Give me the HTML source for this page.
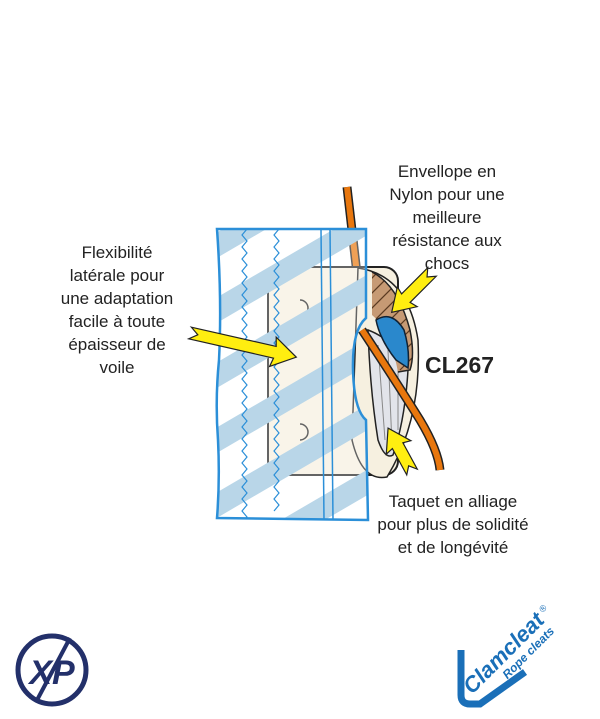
<!DOCTYPE html>
<html><head><meta charset="utf-8"><style>
html,body{margin:0;padding:0;background:#fff;}
svg{display:block;}
text{font-family:"Liberation Sans",sans-serif;fill:#222;}
</style></head><body>
<svg width="600" height="719" viewBox="0 0 600 719" xmlns="http://www.w3.org/2000/svg">
<defs>
<clipPath id="panel"><path d="M217,229 L366,229 L366,318 Q352,330 353,370 Q354,410 366,420 L368,520 L217,518 Q220,480 218,440 Q215,400 219,360 Q222,300 217,229 Z"/></clipPath>
<clipPath id="brown"><path d="M372,272 Q398,285 410,330 Q415,355 410,370 L398,372 Q390,330 372,315 Z"/></clipPath>
</defs>
<!-- rope top -->
<path d="M347,187 L360,300" stroke="#222" stroke-width="9" fill="none"/>
<path d="M347,187 L360,300" stroke="#e8770e" stroke-width="6" fill="none"/>
<!-- cleat base plate -->
<rect x="268" y="267" width="130" height="208" rx="14" fill="#f6f0e0" stroke="#222" stroke-width="2"/>
<path d="M300,300 a8,8 0 0 1 0,16" fill="none" stroke="#222" stroke-width="1.5"/>
<path d="M300,440 a8,8 0 0 0 0,-16" fill="none" stroke="#222" stroke-width="1.5"/>
<!-- cleat oval body -->
<path d="M358,268 Q408,275 418,340 Q422,420 387,477 Q362,482 352,440 Z" fill="#f6f0e0" stroke="#222" stroke-width="1.5"/>
<path d="M368,330 Q395,340 408,370 Q405,420 393,455 Q385,460 378,440 Q370,390 368,330Z" fill="#e2e4ea" stroke="#222" stroke-width="1.5"/>
<g stroke="#888" stroke-width="1"><line x1="378" y1="345" x2="385" y2="440"/><line x1="388" y1="350" x2="392" y2="445"/><line x1="398" y1="360" x2="398" y2="430"/></g>
<g clip-path="url(#brown)">
<rect x="360" y="265" width="60" height="115" fill="#c69a74"/>
<g stroke="#5a3a20" stroke-width="1.2">
<line x1="360" y1="290" x2="390" y2="260"/><line x1="360" y1="305" x2="405" y2="260"/><line x1="360" y1="320" x2="420" y2="260"/><line x1="365" y1="330" x2="420" y2="275"/><line x1="375" y1="335" x2="420" y2="290"/><line x1="385" y1="340" x2="420" y2="305"/><line x1="390" y1="350" x2="420" y2="320"/><line x1="395" y1="360" x2="420" y2="335"/><line x1="400" y1="370" x2="420" y2="350"/>
</g></g>
<path d="M372,272 Q398,285 410,330 Q415,355 410,370 L398,372" fill="none" stroke="#222" stroke-width="1.5"/>
<path d="M376,320 Q392,310 404,330 Q410,350 408,368 L396,360 Q380,340 376,320Z" fill="#2a88cc" stroke="#123" stroke-width="1.5"/>
<!-- rope lower -->
<path d="M362,330 Q395,380 420,420 Q438,450 440,470" stroke="#222" stroke-width="9" fill="none"/>
<path d="M362,330 Q395,380 420,420 Q438,450 440,470" stroke="#e8770e" stroke-width="6" fill="none"/>
<!-- panel -->
<g clip-path="url(#panel)">
<rect x="210" y="225" width="165" height="300" fill="rgba(255,255,255,0.3)"/>
<g stroke="#b9d6e8" stroke-width="22" fill="none">
<line x1="200" y1="255" x2="380" y2="150"/><line x1="200" y1="320" x2="380" y2="215"/><line x1="200" y1="385" x2="380" y2="280"/><line x1="200" y1="450" x2="380" y2="345"/><line x1="200" y1="515" x2="380" y2="410"/><line x1="200" y1="580" x2="380" y2="475"/><line x1="200" y1="645" x2="380" y2="540"/>
</g>
<path d="M247,229 l-5,6 l5,6 l-5,6 l5,6 l-5,6 l5,6 l-5,6 l5,6 l-5,6 l5,6 l-5,6 l5,6 l-5,6 l5,6 l-5,6 l5,6 l-5,6 l5,6 l-5,6 l5,6 l-5,6 l5,6 l-5,6 l5,6 l-5,6 l5,6 l-5,6 l5,6 l-5,6 l5,6 l-5,6 l5,6 l-5,6 l5,6 l-5,6 l5,6 l-5,6 l5,6 l-5,6 l5,6 l-5,6 l5,6 l-5,6 l5,6 l-5,6 l5,6 l-5,6 l5,6 l-5,6" fill="none" stroke="#2b8fd8" stroke-width="1.2"/>
<path d="M279,229 l-5,6 l5,6 l-5,6 l5,6 l-5,6 l5,6 l-5,6 l5,6 l-5,6 l5,6 l-5,6 l5,6 l-5,6 l5,6 l-5,6 l5,6 l-5,6 l5,6 l-5,6 l5,6 l-5,6 l5,6 l-5,6 l5,6 l-5,6 l5,6 l-5,6 l5,6 l-5,6 l5,6 l-5,6 l5,6 l-5,6 l5,6 l-5,6 l5,6 l-5,6 l5,6 l-5,6 l5,6 l-5,6 l5,6 l-5,6 l5,6 l-5,6 l5,6 l-5,6" fill="none" stroke="#2b8fd8" stroke-width="1.2"/>
<line x1="321" y1="229" x2="324" y2="520" stroke="#2b8fd8" stroke-width="1.5"/>
<line x1="330" y1="229" x2="333" y2="520" stroke="#2b8fd8" stroke-width="1.5"/>
</g>
<path d="M217,229 L366,229 L366,318 Q352,330 353,370 Q354,410 366,420 L368,520 L217,518 Q220,480 218,440 Q215,400 219,360 Q222,300 217,229 Z" fill="none" stroke="#2b8fd8" stroke-width="2.5"/>
<!-- arrows -->
<g fill="#ffee10" stroke="#222" stroke-width="1.2" stroke-linejoin="miter">
<path transform="translate(190,333) rotate(12.8)" d="M0,-6 L87,-6 L85,-15 L109,0 L85,15 L87,6 L0,6 L8,0 Z"/>
<path transform="translate(432,272) rotate(135)" d="M0,-6 L37,-6 L35,-14 L57,0 L35,14 L37,6 L0,6 L7,0 Z"/>
<path transform="translate(412,472) rotate(241.4)" d="M0,-6 L30,-6 L28,-14 L50,0 L28,14 L30,6 L0,6 L7,0 Z"/>
</g>
<!-- texts -->
<g font-size="17" text-anchor="middle">
<text x="117" y="258">Flexibilité</text>
<text x="117" y="281">latérale pour</text>
<text x="117" y="304">une adaptation</text>
<text x="117" y="327">facile à toute</text>
<text x="117" y="350">épaisseur de</text>
<text x="117" y="373">voile</text>
<text x="447" y="177">Envellope en</text>
<text x="447" y="200">Nylon pour une</text>
<text x="447" y="223">meilleure</text>
<text x="447" y="246">résistance aux</text>
<text x="447" y="269">chocs</text>
<text x="453" y="507">Taquet en alliage</text>
<text x="453" y="530">pour plus de solidité</text>
<text x="453" y="553">et de longévité</text>
</g>
<text x="425" y="373" font-size="23" font-weight="bold" fill="#111">CL267</text>
<!-- XP logo -->
<circle cx="52" cy="670" r="34" fill="none" stroke="#23306a" stroke-width="5"/>
<line x1="70" y1="638" x2="36" y2="702" stroke="#23306a" stroke-width="4"/>
<text x="52" y="684" font-size="34" font-weight="bold" font-style="italic" text-anchor="middle" style="fill:#23306a">XP</text>
<!-- Clamcleat logo -->
<path d="M461,650 L461,695 Q461,704 470,704 L480,704 L525,672" fill="none" stroke="#1a6fb8" stroke-width="7"/>
<g transform="translate(472,695) rotate(-45)">
<text x="0" y="0" font-size="22" font-weight="bold" font-style="italic" style="fill:#1a6fb8">Clamcleat</text>
<text x="108" y="-8" font-size="9" style="fill:#1a6fb8">®</text>
<text x="36" y="14" font-size="12" font-weight="bold" font-style="italic" style="fill:#1a6fb8">Rope cleats</text>
</g>
</svg>
</body></html>
